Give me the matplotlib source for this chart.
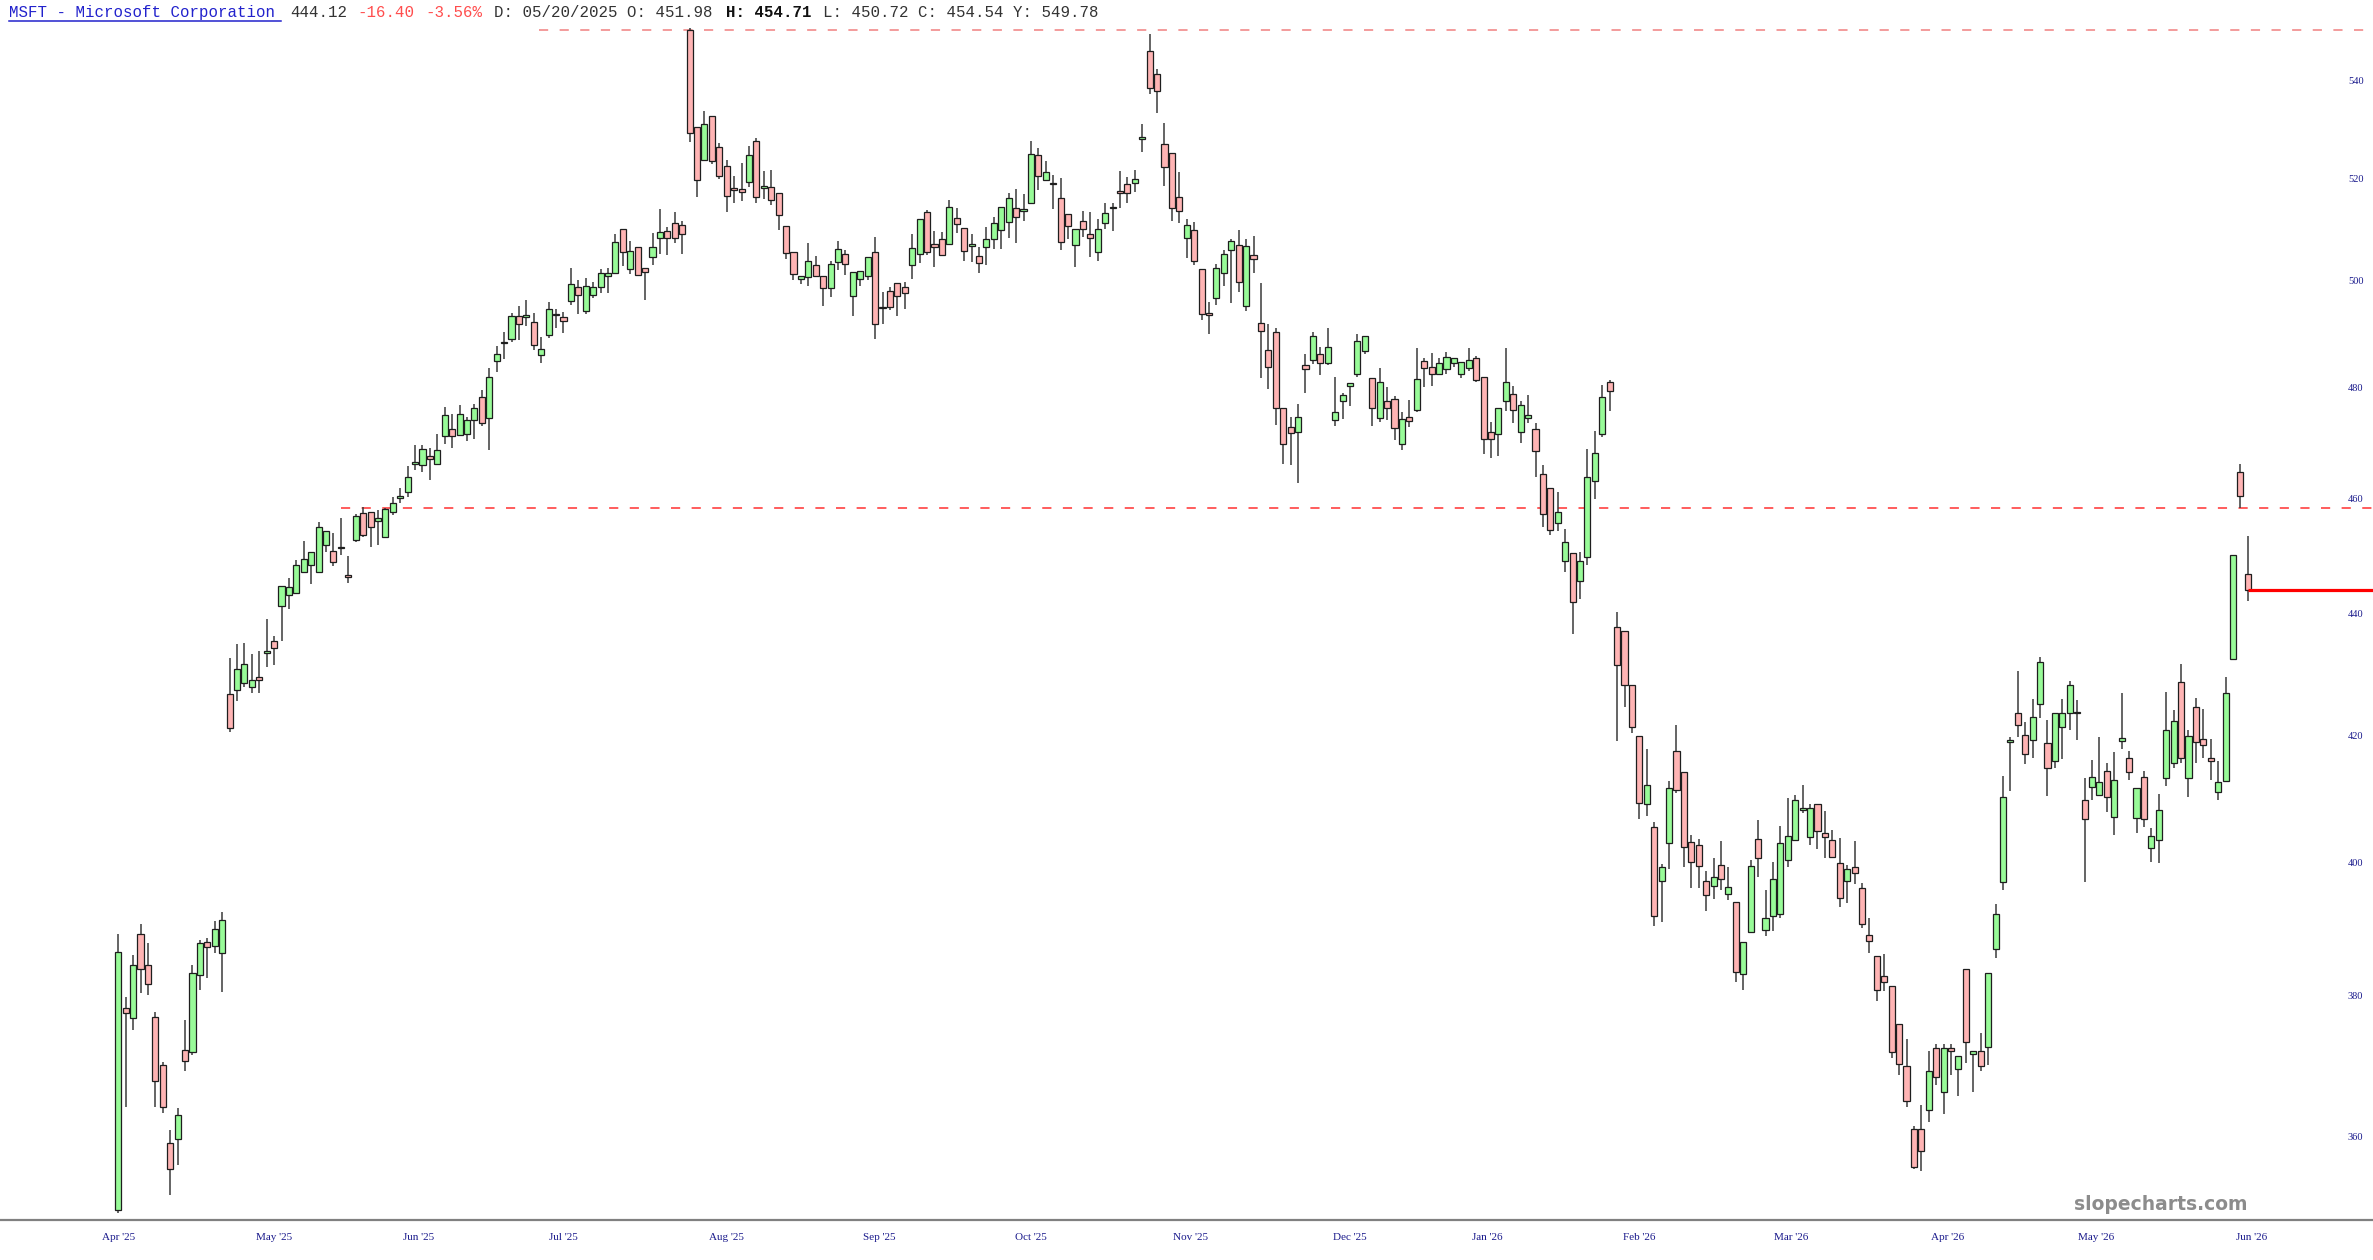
import numpy as np
import matplotlib
matplotlib.use("Agg")
import matplotlib.pyplot as plt
from matplotlib.lines import Line2D
from matplotlib.ticker import NullLocator

# Datos diarios (apertura, maximo, minimo, cierre)
aperturas = [
    350.1, 378.2, 376.8, 389.2, 384.5, 376.9, 370.0, 359.2, 359.7, 372.2, 371.9, 383.0,
    388.0, 387.3, 386.3, 426.7, 427.4, 428.5, 427.8, 429.4, 433.5, 435.5, 441.4, 443.2,
    443.6, 447.1, 448.3, 447.1, 451.8, 450.8, 451.2, 446.4, 452.7, 457.3, 457.6, 455.9,
    453.2, 457.6, 460.0, 461.0, 466.1, 465.8, 467.4, 466.1, 471.1, 472.4, 471.2, 471.4,
    474.0, 478.1, 474.3, 484.8, 488.1, 488.9, 493.3, 493.1, 492.2, 485.9, 489.6, 493.4,
    493.0, 496.1, 498.8, 494.3, 497.2, 498.7, 500.9, 501.4, 510.1, 502.3, 506.6, 502.5,
    504.5, 508.2, 509.7, 511.1, 510.8, 550.5, 530.4, 523.8, 532.7, 526.4, 522.4, 518.2,
    517.9, 519.2, 527.6, 518.2, 518.4, 517.2, 510.7, 505.5, 500.3, 500.7, 503.1, 500.9,
    498.6, 503.6, 505.1, 497.1, 500.4, 500.9, 505.5, 494.8, 498.0, 499.5, 498.8, 503.1,
    505.2, 513.3, 507.1, 508.0, 507.1, 512.1, 510.3, 506.7, 504.7, 506.6, 508.0, 509.8,
    511.3, 514.1, 513.5, 515.1, 524.7, 519.7, 518.9, 516.1, 512.9, 506.8, 511.5, 509.0,
    505.6, 511.1, 514.1, 517.5, 518.8, 519.1, 528.0, 546.1, 541.2, 526.9, 525.2, 516.3,
    508.2, 509.8, 502.2, 493.6, 496.6, 501.4, 505.9, 506.8, 495.2, 504.9, 492.0, 486.8,
    490.3, 476.1, 472.7, 471.8, 484.0, 485.1, 486.1, 484.4, 474.0, 477.5, 480.2, 482.5,
    486.7, 481.6, 474.4, 477.4, 477.8, 469.6, 474.6, 475.8, 484.9, 483.7, 482.5, 483.3,
    484.4, 482.5, 483.6, 485.4, 481.9, 471.8, 471.5, 477.4, 478.8, 471.8, 474.3, 472.3,
    464.2, 461.8, 455.6, 449.1, 450.4, 445.5, 449.7, 463.0, 471.4, 480.9, 437.8, 437.1,
    428.1, 419.9, 409.1, 405.4, 397.2, 402.9, 417.5, 414.1, 403.1, 402.6, 397.2, 396.3,
    399.6, 395.1, 393.9, 383.2, 389.5, 403.6, 389.8, 391.8, 392.1, 400.3, 403.4, 408.1,
    403.9, 409.0, 404.5, 403.5, 399.9, 397.1, 399.2, 396.1, 389.0, 385.8, 382.9, 381.4,
    376.0, 369.9, 361.1, 361.1, 363.7, 372.5, 366.2, 372.5, 369.5, 384.0, 371.7, 372.0,
    372.6, 386.9, 397.0, 418.9, 423.6, 420.0, 419.2, 425.1, 418.8, 415.8, 421.3, 423.5,
    423.5, 409.7, 411.7, 410.5, 414.2, 407.0, 419.0, 416.3, 406.9, 413.3, 402.2, 403.4,
    413.2, 415.6, 428.6, 413.1, 424.5, 419.3, 416.3, 410.9, 412.7, 432.5, 464.7, 446.8,
]

maximos = [
    389.2, 379.9, 386.0, 390.6, 387.8, 377.7, 370.5, 360.9, 364.0, 376.5, 384.5, 388.2,
    388.6, 391.1, 392.5, 432.6, 435.0, 435.1, 433.3, 433.7, 439.1, 436.2, 444.8, 446.1,
    449.2, 452.4, 450.5, 455.8, 454.3, 453.9, 456.5, 449.9, 457.2, 458.5, 457.6, 457.9,
    458.2, 460.2, 461.7, 465.7, 469.5, 469.5, 469.0, 471.4, 476.3, 475.1, 476.7, 474.6,
    476.9, 479.5, 483.6, 487.7, 490.3, 493.9, 495.2, 496.4, 493.8, 489.4, 495.9, 494.6,
    494.0, 502.5, 500.1, 500.6, 499.8, 502.2, 502.4, 509.0, 510.1, 507.7, 506.6, 502.5,
    509.3, 514.0, 510.5, 513.4, 511.6, 550.9, 530.4, 533.7, 532.7, 527.2, 523.6, 520.4,
    523.0, 526.5, 528.1, 521.5, 521.7, 517.2, 510.7, 505.5, 500.9, 507.3, 504.7, 500.9,
    503.8, 507.7, 506.0, 501.6, 501.9, 504.5, 508.4, 497.9, 498.8, 499.5, 499.7, 509.0,
    511.9, 513.7, 509.7, 509.5, 515.7, 514.2, 510.3, 509.0, 506.6, 510.5, 512.3, 514.4,
    517.1, 518.0, 517.0, 527.5, 526.2, 523.4, 520.7, 520.0, 512.9, 510.0, 513.6, 513.4,
    511.9, 515.1, 515.1, 521.5, 520.3, 521.7, 530.9, 549.7, 542.4, 531.2, 525.2, 521.3,
    512.0, 511.3, 502.2, 496.0, 503.3, 506.0, 508.1, 509.9, 508.1, 508.6, 499.5, 491.7,
    491.1, 476.1, 474.5, 476.9, 486.2, 490.2, 487.5, 491.0, 481.9, 478.9, 480.7, 489.8,
    489.5, 481.6, 483.6, 480.1, 478.4, 475.5, 477.7, 487.2, 485.4, 486.3, 485.4, 486.5,
    485.4, 484.7, 487.2, 485.7, 481.9, 473.7, 476.1, 487.2, 480.2, 477.4, 478.6, 473.4,
    465.9, 461.8, 461.0, 454.5, 450.4, 450.6, 468.8, 471.9, 480.4, 481.3, 440.4, 437.1,
    428.1, 419.9, 417.7, 406.2, 399.8, 412.7, 421.6, 414.1, 404.2, 403.6, 398.6, 400.7,
    403.3, 399.2, 393.9, 388.0, 400.4, 406.5, 395.7, 400.1, 405.6, 410.0, 410.4, 412.0,
    409.0, 409.0, 407.9, 405.0, 403.7, 399.6, 403.3, 396.9, 391.5, 385.8, 386.2, 381.4,
    376.0, 373.8, 361.5, 364.5, 372.0, 373.0, 373.0, 373.0, 371.3, 384.0, 372.1, 374.7,
    383.4, 393.7, 413.4, 419.7, 430.5, 422.1, 425.9, 432.7, 422.5, 423.5, 425.9, 428.8,
    425.7, 413.2, 416.0, 419.7, 415.6, 417.3, 426.8, 417.5, 411.5, 414.3, 405.3, 410.6,
    427.0, 424.1, 431.7, 420.8, 426.1, 424.2, 419.4, 415.9, 429.4, 450.0, 466.1, 453.4,
]

minimos = [
    349.7, 364.2, 375.1, 380.4, 380.2, 364.2, 363.3, 352.1, 356.2, 369.2, 371.5, 380.8,
    382.7, 386.3, 380.6, 420.5, 425.6, 427.8, 426.8, 426.8, 431.2, 431.5, 435.4, 440.8,
    443.4, 447.0, 445.0, 447.1, 450.5, 448.1, 450.1, 445.2, 452.3, 453.1, 451.5, 451.7,
    453.1, 457.0, 459.2, 460.1, 464.9, 464.7, 463.2, 465.8, 469.6, 468.9, 471.2, 470.1,
    470.6, 472.8, 468.6, 482.7, 485.2, 488.3, 488.7, 491.4, 486.8, 484.5, 489.2, 491.1,
    490.0, 495.4, 493.7, 493.7, 496.7, 497.7, 497.6, 501.4, 502.8, 501.2, 500.9, 496.4,
    503.1, 505.2, 505.0, 507.2, 505.1, 527.4, 516.4, 523.8, 522.9, 519.8, 513.3, 515.1,
    515.5, 518.4, 515.1, 516.0, 514.8, 509.8, 504.2, 500.2, 499.3, 499.0, 500.9, 495.2,
    496.9, 502.1, 501.1, 493.3, 498.9, 500.1, 489.0, 491.7, 494.4, 493.3, 494.6, 500.4,
    503.5, 505.0, 502.6, 505.0, 507.1, 509.2, 503.8, 503.6, 501.5, 503.1, 506.2, 506.2,
    508.2, 507.2, 511.5, 515.1, 517.7, 519.7, 513.9, 506.0, 508.0, 502.6, 508.4, 504.6,
    503.8, 510.1, 509.6, 514.1, 515.1, 517.3, 525.3, 537.1, 533.2, 518.5, 511.5, 511.1,
    504.4, 503.1, 492.5, 489.9, 495.3, 498.9, 495.7, 497.9, 494.3, 501.4, 481.6, 479.6,
    473.1, 466.0, 465.8, 462.6, 478.9, 484.2, 482.2, 484.0, 472.8, 474.2, 476.5, 481.9,
    486.1, 472.8, 473.7, 474.0, 470.3, 468.6, 472.7, 475.5, 480.1, 480.2, 482.5, 482.5,
    483.7, 481.7, 483.0, 481.0, 467.9, 467.2, 467.4, 475.6, 473.5, 469.9, 473.4, 463.7,
    455.0, 453.6, 454.3, 447.1, 436.6, 442.6, 448.3, 459.8, 470.9, 475.6, 419.0, 424.5,
    420.3, 406.7, 407.2, 390.4, 391.0, 399.0, 410.7, 399.2, 396.1, 396.1, 392.6, 394.4,
    395.7, 394.2, 382.1, 380.8, 389.5, 397.8, 388.9, 389.6, 391.6, 399.3, 403.4, 407.6,
    402.6, 402.0, 400.6, 400.8, 393.2, 393.8, 396.7, 390.0, 386.3, 379.3, 380.7, 371.0,
    368.7, 364.2, 355.6, 355.3, 362.1, 367.3, 363.2, 368.7, 365.7, 370.4, 366.2, 369.2,
    370.1, 385.6, 395.7, 411.1, 419.7, 415.3, 416.3, 422.7, 410.3, 414.7, 416.1, 420.8,
    419.2, 397.0, 409.6, 410.5, 407.8, 404.2, 417.7, 412.8, 404.5, 405.5, 400.1, 399.9,
    411.9, 414.7, 415.5, 410.2, 415.5, 416.3, 412.8, 409.6, 412.7, 432.5, 458.3, 442.1,
]

cierres = [
    386.5, 377.5, 384.5, 383.9, 381.8, 367.8, 364.1, 355.6, 363.1, 370.6, 383.4, 387.8,
    387.2, 389.9, 391.2, 421.1, 430.8, 431.7, 428.9, 429.0, 433.7, 434.3, 444.7, 444.6,
    448.3, 449.4, 450.5, 455.0, 454.3, 448.9, 451.3, 446.3, 456.9, 453.5, 454.9, 456.5,
    458.0, 459.1, 460.1, 463.7, 466.3, 468.8, 467.0, 468.6, 474.8, 471.0, 475.1, 474.0,
    476.2, 473.4, 481.9, 486.1, 488.2, 493.3, 491.8, 493.2, 487.9, 487.0, 494.6, 493.5,
    492.4, 499.3, 497.2, 499.0, 498.8, 501.5, 501.4, 507.4, 505.6, 505.7, 501.0, 501.6,
    506.6, 509.4, 508.2, 508.2, 509.0, 529.1, 519.7, 531.0, 523.4, 520.5, 516.5, 517.7,
    517.4, 524.7, 516.3, 518.3, 515.8, 512.8, 505.4, 501.3, 500.9, 503.7, 500.9, 498.6,
    503.3, 506.2, 503.2, 501.6, 501.9, 504.5, 491.7, 494.7, 495.0, 497.1, 497.6, 506.4,
    511.9, 505.5, 506.6, 505.0, 514.4, 511.0, 505.7, 506.8, 503.5, 508.0, 511.1, 514.4,
    516.1, 512.3, 513.9, 524.9, 520.5, 521.2, 518.8, 507.5, 510.6, 510.0, 510.0, 508.2,
    510.0, 513.2, 514.2, 517.1, 517.1, 519.9, 528.1, 538.4, 537.8, 522.2, 514.2, 513.5,
    510.8, 503.8, 493.7, 493.5, 502.5, 505.1, 507.6, 499.8, 506.7, 504.1, 490.4, 483.8,
    476.1, 469.7, 471.7, 474.6, 483.4, 489.5, 484.4, 487.5, 475.4, 478.5, 480.7, 488.5,
    489.5, 476.2, 481.0, 476.2, 472.5, 474.1, 473.8, 481.5, 483.5, 482.5, 484.4, 485.5,
    485.4, 484.7, 485.0, 481.3, 470.6, 470.6, 476.1, 481.0, 475.8, 476.8, 474.8, 468.4,
    457.2, 454.4, 457.6, 452.3, 442.0, 449.0, 463.7, 468.0, 478.2, 479.3, 431.5, 428.2,
    421.3, 409.2, 412.1, 391.8, 399.2, 411.5, 411.2, 402.4, 400.0, 399.5, 395.0, 397.7,
    397.4, 396.2, 383.5, 388.0, 399.5, 400.7, 391.6, 397.5, 402.9, 404.1, 409.6, 408.2,
    408.4, 404.8, 403.9, 400.8, 394.5, 398.9, 398.4, 390.7, 388.1, 380.9, 382.0, 371.9,
    370.2, 365.0, 355.9, 358.0, 369.2, 368.4, 372.5, 372.0, 371.3, 373.4, 372.1, 369.9,
    383.4, 392.1, 410.2, 419.2, 421.7, 417.0, 423.0, 431.9, 414.7, 423.5, 423.6, 428.1,
    423.6, 406.7, 413.3, 412.5, 410.2, 412.8, 419.6, 414.1, 411.5, 406.7, 404.1, 408.1,
    420.8, 422.3, 416.3, 419.8, 418.9, 418.4, 415.9, 412.5, 426.8, 450.0, 460.4, 444.1,
]

# Etiquetas de meses y la vela donde empieza cada mes
meses = ["Apr '25", "May '25", "Jun '25", "Jul '25", "Aug '25", "Sep '25", "Oct '25",
         "Nov '25", "Dec '25", "Jan '26", "Feb '26", "Mar '26", "Apr '26", "May '26", "Jun '26"]
meses_idx = [0, 21, 40.5, 60, 82, 102.5, 123, 144.5, 166, 184.5, 205, 225.5, 246.5, 266.5, 287.5]

precios_eje = [360, 380, 400, 420, 440, 460, 480, 500, 520, 540]

ultimo = 444.12
nivel_rojo = 458.2
nivel_alto = 550.5

W, H = 2373, 1260
fig = plt.figure(figsize=(W / 100, H / 100), dpi=100)
fig.patch.set_facecolor("white")
ax = fig.add_axes([0, 40 / H, 1, 1200 / H])

ax.set_yscale("log")
ax.set_ylim(348.7, 552.6)
ax.set_xlim(-15.94, 303.87)

o = np.array(aperturas)
h = np.array(maximos)
l = np.array(minimos)
c = np.array(cierres)
x = np.arange(len(o))
sube = c >= o

# Mechas
ax.vlines(x, l, h, color="#3a3a3a", lw=1.1, zorder=2)

# Cuerpos de las velas
base = np.minimum(o, c)
alto = np.maximum(np.abs(c - o), 0.3)
ax.bar(x[sube], alto[sube], bottom=base[sube], width=0.82, color="#98fb98",
       edgecolor="#1e1e1e", linewidth=0.9, zorder=3)
ax.bar(x[~sube], alto[~sube], bottom=base[~sube], width=0.82, color="#ffb4b4",
       edgecolor="#1e1e1e", linewidth=0.9, zorder=3)

# Lineas horizontales
ax.hlines(nivel_alto, 56.7, 320, colors="#f08080", linestyles=(0, (6, 7.5)), lw=1.1, zorder=1)
ax.hlines(nivel_rojo, 30, 320, colors="#ff3030", linestyles=(0, (6, 7.5)), lw=1.1, zorder=1)
ax.hlines(ultimo, len(o) - 1, 320, colors="#ff0000", lw=2.3, zorder=4)

# Ejes
for s in ["top", "left", "right"]:
    ax.spines[s].set_visible(False)
ax.spines["bottom"].set_color("#808080")
ax.spines["bottom"].set_linewidth(1.6)

ax.set_xticks(meses_idx)
ax.set_xticklabels(meses, fontfamily="Liberation Serif", fontsize=8, color="#1a1a8c")
ax.tick_params(axis="x", length=0, pad=9)

ax.yaxis.tick_right()
ax.set_yticks(precios_eje)
ax.set_yticklabels([str(p) for p in precios_eje], fontfamily="Liberation Serif",
                   fontsize=7.5, color="#1a1a8c")
ax.yaxis.set_minor_locator(NullLocator())
ax.tick_params(axis="y", which="both", length=0, pad=-18)

# Cabecera
x0, cw, yh = 9, 9.69, 1 - 12.5 / H
partes = [
    (0, "MSFT - Microsoft Corporation", "#2222cc", "normal"),
    (29, "444.12", "#333333", "normal"),
    (36, "-16.40", "#ff4d4d", "normal"),
    (43, "-3.56%", "#ff4d4d", "normal"),
    (50, "D: 05/20/2025 O: 451.98", "#333333", "normal"),
    (74, "H: 454.71", "#111111", "bold"),
    (84, "L: 450.72 C: 454.54 Y: 549.78", "#333333", "normal"),
]
for k, txt, col, peso in partes:
    fig.text((x0 + k * cw) / W, yh, txt, color=col, fontweight=peso,
             fontfamily="Liberation Mono", fontsize=11.3, ha="left", va="center")
fig.add_artist(Line2D([x0 / W, 281 / W], [1 - 20.7 / H, 1 - 20.7 / H],
                      color="#2222cc", lw=1.1))

# Marca de agua
fig.text(2161 / W, 1 - 1205 / H, "slopecharts.com", color="#8c8c8c", fontweight="bold",
         fontfamily="DejaVu Sans", fontsize=13.5, ha="center", va="center")

fig.savefig("out.png", dpi=100)
